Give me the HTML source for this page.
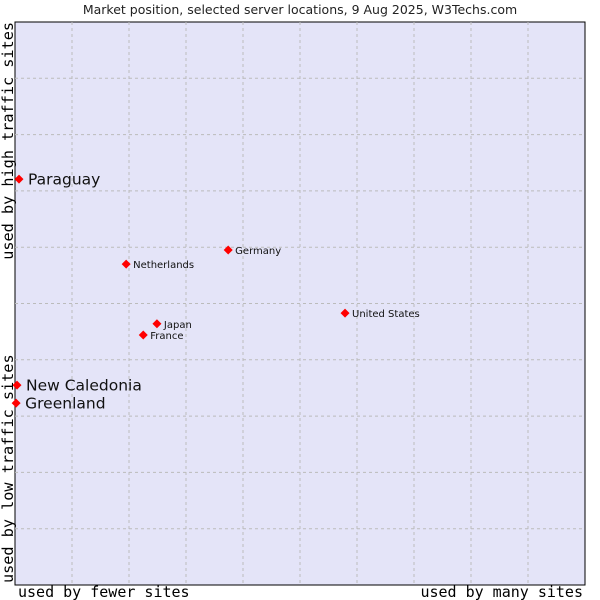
<!DOCTYPE html>
<html><head><meta charset="utf-8"><style>
body{margin:0;background:#fff;width:600px;height:600px;overflow:hidden}
svg{display:block}
</style></head><body>
<svg id="chart" width="600" height="600" xmlns="http://www.w3.org/2000/svg">
<text x="300" y="14" text-anchor="middle" font-family="DejaVu Sans, sans-serif" font-size="12.5" fill="#222">Market position, selected server locations, 9 Aug 2025, W3Techs.com</text>
<rect x="15" y="22" width="570" height="563" fill="#e4e4f8" stroke="#000" stroke-width="1"/>
<g id="grid"></g>
<g id="points"></g>
<text x="18" y="597" font-family="DejaVu Sans Mono, Liberation Mono, monospace" font-size="15" fill="#000">used by fewer sites</text>
<text x="583" y="597" text-anchor="end" font-family="DejaVu Sans Mono, Liberation Mono, monospace" font-size="15" fill="#000">used by many sites</text>
<text transform="translate(13,22) rotate(-90)" text-anchor="end" font-family="DejaVu Sans Mono, Liberation Mono, monospace" font-size="15.2" fill="#000">used by high traffic sites</text>
<text transform="translate(13,583) rotate(-90)" font-family="DejaVu Sans Mono, Liberation Mono, monospace" font-size="15.2" fill="#000">used by low traffic sites</text>
</svg>
<script>
const names=["Paraguay","New Caledonia","Greenland","Netherlands","Germany","United States","Japan","France"];
const xVals=[0.7,0.35,0.2,19.5,37.4,57.9,24.9,22.5];
const yVals=[72.1,35.5,32.3,57,59.5,48.3,46.4,44.4];
const bigLabel=[true,true,true,false,false,false,false,false];
const gridTicks=[10,20,30,40,50,60,70,80,90];
const NS="http://www.w3.org/2000/svg";
const L=15,R=585,T=22,B=585;
const sx=v=>L+v/100*(R-L);
const sy=v=>B-v/100*(B-T);
const g=document.getElementById('grid');
gridTicks.forEach(t=>{
  const v=document.createElementNS(NS,'line');
  
  
  v.setAttribute('x1',sx(t));v.setAttribute('x2',sx(t));v.setAttribute('y1',T);v.setAttribute('y2',B);
  v.setAttribute('stroke','#bbb');v.setAttribute('stroke-dasharray','3,3');
  g.appendChild(v);
  const h=document.createElementNS(NS,'line');
  
  
  h.setAttribute('y1',sy(t));h.setAttribute('y2',sy(t));h.setAttribute('x1',L);h.setAttribute('x2',R);
  h.setAttribute('stroke','#bbb');h.setAttribute('stroke-dasharray','3,3');
  g.appendChild(h);
});
const p=document.getElementById('points');
names.forEach((n,i)=>{
  const x=sx(xVals[i]),y=sy(yVals[i]);
  const c=document.createElementNS(NS,'path');
  
  
  c.setAttribute('d',`M${x} ${y-4.5}L${x+4.5} ${y}L${x} ${y+4.5}L${x-4.5} ${y}Z`);
  c.setAttribute('fill','#f00');
  p.appendChild(c);
  const t=document.createElementNS(NS,'text');
  
  
  t.setAttribute('x',x+(bigLabel[i]?9:7));
  t.setAttribute('y',y+(bigLabel[i]?5.5:4));
  t.setAttribute('font-family','DejaVu Sans, sans-serif');
  t.setAttribute('font-size',bigLabel[i]?'15.5':'10');
  t.setAttribute('fill','#111');
  t.textContent=n;
  p.appendChild(t);
});
</script>
</body></html>
